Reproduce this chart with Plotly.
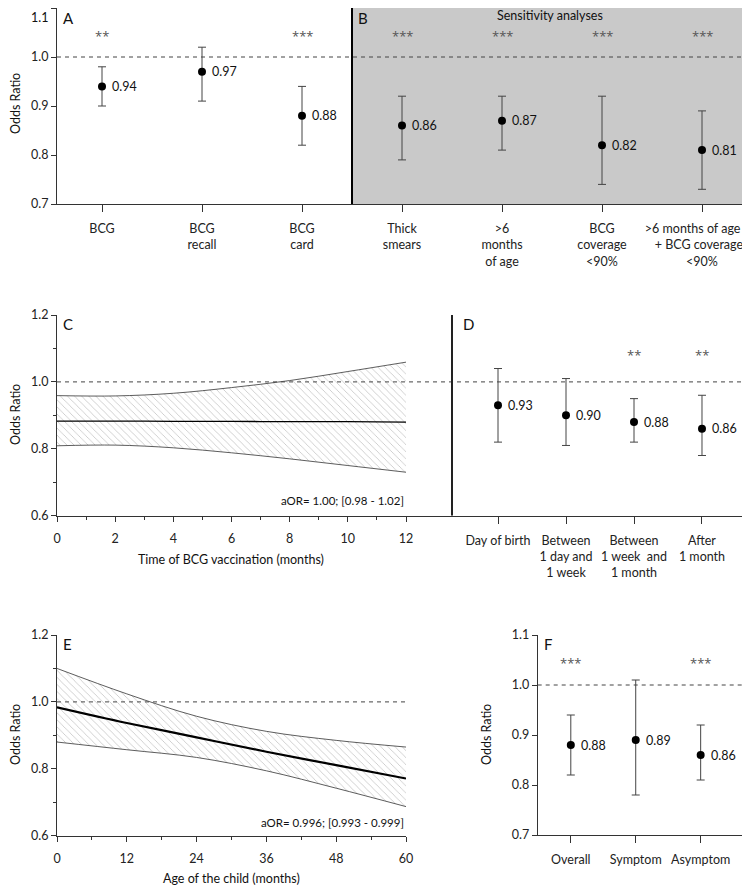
import plotly.graph_objects as go

# the page body keeps an 8px margin, so the figure is sized to what is left of the window
OFF = 8
W, H = 750 - OFF, 888 - OFF

# ---- Panel A / B : BCG and sensitivity analyses
# (trailing spaces after the widest lines keep them clear of the right window edge)
ab_labels = ["BCG", "BCG<br>recall", "BCG<br>card", "Thick<br>smears", ">6<br>months<br>of age",
             "BCG<br>coverage<br><90%", ">6 months of age\u2003\u2003<br>+ BCG coverage\u2002<br><90%"]
ab_or = [0.94, 0.97, 0.88, 0.86, 0.87, 0.82, 0.81]
ab_low = [0.90, 0.91, 0.82, 0.79, 0.81, 0.74, 0.73]
ab_high = [0.98, 1.02, 0.94, 0.92, 0.92, 0.92, 0.89]
ab_stars = ["**", "", "***", "***", "***", "***", "***"]
ab_yticks = [0.7, 0.8, 0.9, 1.0, 1.1]

# ---- Panel C : time of BCG vaccination (months)
c_month = [0, 2, 4, 6, 8, 10, 12]
c_or = [0.883, 0.883, 0.882, 0.882, 0.881, 0.881, 0.880]
c_low = [0.809, 0.811, 0.803, 0.788, 0.770, 0.750, 0.730]
c_high = [0.959, 0.958, 0.966, 0.983, 1.004, 1.031, 1.059]

# ---- Panel D : timing categories
d_labels = ["Day of birth", "Between<br>1 day and<br>1 week", "Between<br>1 week  and<br>1 month", "After<br>1 month"]
d_or = [0.93, 0.90, 0.88, 0.86]
d_low = [0.82, 0.81, 0.82, 0.78]
d_high = [1.04, 1.01, 0.95, 0.96]
d_stars = ["", "", "**", "**"]

# ---- Panel E : age of the child (months)
e_age = [0, 12, 24, 36, 48, 60]
e_or = [0.984, 0.937, 0.894, 0.851, 0.811, 0.771]
e_low = [0.880, 0.857, 0.834, 0.794, 0.742, 0.687]
e_high = [1.100, 1.024, 0.957, 0.912, 0.885, 0.865]

# ---- Panel F : overall / symptomatic / asymptomatic
f_labels = ["Overall", "Symptom", "Asymptom"]
f_or = [0.88, 0.89, 0.86]
f_low = [0.82, 0.78, 0.81]
f_high = [0.94, 1.01, 0.92]
f_stars = ["***", "", "***"]
f_yticks = [0.7, 0.8, 0.9, 1.0, 1.1]

FONT = "Lato"
AX = "#333333"
ERR = "#444444"


# window pixel -> paper fraction
def px_x(p):
    return (p - OFF) / W


def px_y(p):
    return 1 - (p - OFF) / H


fig = go.Figure()


def forest(xs, ors, lows, highs, xa, ya):
    fig.add_trace(go.Scatter(
        x=xs, y=ors, mode="markers", xaxis=xa, yaxis=ya,
        marker=dict(color="black", size=8),
        error_y=dict(type="data", symmetric=False,
                     array=[h - o for h, o in zip(highs, ors)],
                     arrayminus=[o - l for o, l in zip(ors, lows)],
                     color=ERR, thickness=1, width=4),
        showlegend=False, hoverinfo="skip", cliponaxis=False))
    for x, o in zip(xs, ors):
        fig.add_annotation(x=x, y=o, xref=xa, yref=ya, text=f"{o:.2f}", showarrow=False,
                           xanchor="left", yanchor="middle", xshift=8,
                           font=dict(size=12.5, color="#111"))


def stars(xs, st, yv, xa, ya):
    # asterisks sit high in the line box, so nudge them down
    for x, s in zip(xs, st):
        if s:
            fig.add_annotation(x=x, y=yv, xref=xa, yref=ya, text=s, showarrow=False,
                               xanchor="center", yanchor="middle", yshift=-3,
                               font=dict(size=13, color="#555", family="Open Sans"))


def band(xs, mid, low, high, xa, ya, midw):
    fig.add_trace(go.Scatter(x=xs, y=low, mode="lines", xaxis=xa, yaxis=ya,
                             line=dict(color=AX, width=0.8, shape="spline"),
                             showlegend=False, hoverinfo="skip"))
    fig.add_trace(go.Scatter(x=xs, y=high, mode="lines", xaxis=xa, yaxis=ya, fill="tonexty",
                             fillcolor="rgba(0,0,0,0)",
                             fillpattern=dict(shape="\\", fgcolor="#8c8c8c", bgcolor="white",
                                              size=5, solidity=0.16),
                             line=dict(color=AX, width=0.8, shape="spline"),
                             showlegend=False, hoverinfo="skip"))
    fig.add_trace(go.Scatter(x=xs, y=mid, mode="lines", xaxis=xa, yaxis=ya,
                             line=dict(color="black", width=midw, shape="spline"),
                             showlegend=False, hoverinfo="skip"))


# A / B
ab_x = list(range(len(ab_labels)))
forest(ab_x, ab_or, ab_low, ab_high, "x", "y")
stars(ab_x, ab_stars, 1.05, "x", "y")

# C
band(c_month, c_or, c_low, c_high, "x2", "y2", 1.3)

# D
d_x = list(range(len(d_labels)))
forest(d_x, d_or, d_low, d_high, "x3", "y3")
stars(d_x, d_stars, 1.09, "x3", "y3")

# E
band(e_age, e_or, e_low, e_high, "x4", "y4", 2.2)

# F
f_x = list(range(len(f_labels)))
forest(f_x, f_or, f_low, f_high, "x5", "y5")
stars(f_x, f_stars, 1.05, "x5", "y5")

tickfont = dict(size=12.5, color="#222")
base = dict(showgrid=False, zeroline=False, showline=True, linecolor=AX, linewidth=1,
            ticks="outside", tickcolor=AX, tickwidth=1, tickfont=tickfont, automargin=False,
            ticklabeloverflow="allow")

# the top "1.1" of panel A sits on the window edge; its label is written a little lower
ab_ytext = [f"{v:.1f}" for v in ab_yticks[:-1]] + [""]

layout = dict(
    width=W, height=H, margin=dict(l=0, r=0, t=0, b=0, pad=0),
    paper_bgcolor="white", plot_bgcolor="rgba(0,0,0,0)",
    font=dict(family=FONT, color="#222"),
    xaxis=dict(base, domain=[px_x(57), 1], range=[-0.45, 6.48], tickvals=ab_x, ticktext=ab_labels,
               ticklen=7, ticklabelstandoff=6, anchor="y"),
    yaxis=dict(base, domain=[px_y(204), px_y(8)], range=[0.7, 1.1], tickvals=ab_yticks,
               ticktext=ab_ytext, ticklen=5, anchor="x"),
    xaxis2=dict(base, domain=[px_x(57), px_x(406)], range=[0, 12], dtick=2, ticklen=5,
                minor=dict(dtick=1, ticklen=3, ticks="outside", tickcolor=AX),
                ticklabelstandoff=6, anchor="y2"),
    yaxis2=dict(base, domain=[px_y(515.7), px_y(315)], range=[0.6, 1.2], dtick=0.2, tickformat=".1f",
                ticklen=5, minor=dict(dtick=0.1, ticklen=3, ticks="outside", tickcolor=AX), anchor="x2"),
    xaxis3=dict(base, domain=[px_x(406), 1], range=[-1.353, 3.706], tickvals=d_x, ticktext=d_labels,
                ticklen=7, ticklabelstandoff=6, anchor="y3"),
    yaxis3=dict(domain=[px_y(515.7), px_y(315)], range=[0.6, 1.2], visible=False, anchor="x3",
                automargin=False),
    xaxis4=dict(base, domain=[px_x(57), px_x(406)], range=[0, 60], dtick=12, ticklen=5,
                minor=dict(dtick=6, ticklen=3, ticks="outside", tickcolor=AX),
                ticklabelstandoff=6, anchor="y4"),
    yaxis4=dict(base, domain=[px_y(835.7), px_y(635)], range=[0.6, 1.2], dtick=0.2, tickformat=".1f",
                ticklen=5, minor=dict(dtick=0.1, ticklen=3, ticks="outside", tickcolor=AX), anchor="x4"),
    xaxis5=dict(base, domain=[px_x(537.7), 1], range=[-0.51, 2.76], tickvals=f_x, ticktext=f_labels,
                ticklen=7, ticklabelstandoff=6, anchor="y5"),
    yaxis5=dict(base, domain=[px_y(835), px_y(635)], range=[0.7, 1.1], tickvals=f_yticks,
                tickformat=".1f", ticklen=5, anchor="x5"),
)
fig.update_layout(**layout)

dash = dict(color=ERR, width=1, dash="4px,4px")
shapes = [
    # grey background for sensitivity analyses
    dict(type="rect", xref="paper", yref="y", x0=px_x(352), x1=1, y0=0.7, y1=1.1,
         fillcolor="#c9c9c9", line=dict(width=0), layer="below"),
    dict(type="line", xref="paper", yref="y", x0=px_x(352), x1=px_x(352), y0=0.7, y1=1.1,
         line=dict(color="black", width=2)),
    dict(type="line", xref="paper", yref="y", x0=px_x(57), x1=1, y0=1, y1=1, line=dash),
    # C / D
    dict(type="line", xref="paper", yref="y2", x0=px_x(57), x1=1, y0=1, y1=1, line=dash),
    dict(type="line", xref="paper", yref="y2", x0=px_x(452), x1=px_x(452), y0=0.6, y1=1.2,
         line=dict(color="#222", width=2)),
    # E
    dict(type="line", xref="x4", yref="y4", x0=0, x1=60, y0=1, y1=1, line=dash),
    # F
    dict(type="line", xref="paper", yref="y5", x0=px_x(537.7), x1=1, y0=1, y1=1, line=dash),
]
fig.update_layout(shapes=shapes)


# panel letters, titles, notes (positions in window pixels)
def note(x, y, text, size=12.5, xanchor="center", **kw):
    fig.add_annotation(x=px_x(x), y=px_y(y), xref="paper", yref="paper", text=text,
                       showarrow=False, xanchor=xanchor, yanchor="middle",
                       font=dict(size=size, color="#111"), **kw)


note(50, 17, f"{ab_yticks[-1]:.1f}", xanchor="right")
for letter, lx, ly in [("A", 61, 18), ("B", 356, 18), ("C", 61, 324), ("D", 461, 324),
                       ("E", 61, 644), ("F", 542, 644)]:
    note(lx, ly, letter, size=15, xanchor="left")

note(550, 16, "Sensitivity analyses")
note(406, 500, "aOR= 1.00; [0.98 - 1.02]", size=11.5, xanchor="right")
note(406, 822, "aOR= 0.996; [0.993 - 0.999]", size=11.5, xanchor="right")
note(231, 559, "Time of BCG vaccination (months)")
note(231, 878, "Age of the child (months)")
for ox, oy in [(15, 104), (15, 415), (15, 735), (486, 735)]:
    note(ox, oy, "Odds Ratio", textangle=-90)

fig.write_html("out.html")
